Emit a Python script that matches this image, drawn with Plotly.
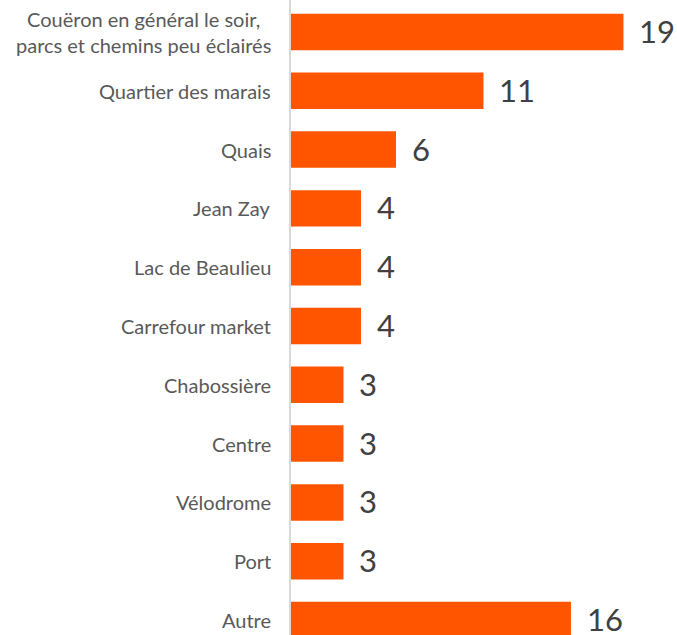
import plotly.graph_objects as go

categories = [
    "Couëron en général le soir,<br>parcs et chemins peu éclairés",
    "Quartier des marais",
    "Quais",
    "Jean Zay",
    "Lac de Beaulieu",
    "Carrefour market",
    "Chabossière",
    "Centre",
    "Vélodrome",
    "Port",
    "Autre",
]
values = [19, 11, 6, 4, 4, 4, 3, 3, 3, 3, 16]

fig = go.Figure(go.Bar(
    x=values, y=categories, orientation="h",
    marker=dict(color="#FF5500", line=dict(width=0)),
    width=0.62,
    hoverinfo="skip",
))

annotations = []
for c, v in zip(categories, values):
    annotations.append(dict(
        x=v, y=c, xref="x", yref="y", text=str(v), showarrow=False,
        xanchor="left", yanchor="middle", xshift=14, yshift=1,
        font=dict(family="Lato", size=31, color="#404040"),
    ))
    annotations.append(dict(
        x=0, y=c, xref="x", yref="y", text=c, showarrow=False,
        xanchor="right", yanchor="middle", xshift=-18, align="center",
        font=dict(family="Lato", size=20, color="#595959"),
    ))

fig.update_layout(
    width=677, height=635,
    margin=dict(l=291, r=0, t=0, b=0, autoexpand=False),
    paper_bgcolor="white", plot_bgcolor="white",
    showlegend=False,
    annotations=annotations,
    xaxis=dict(range=[0, 22.06], showgrid=False, zeroline=False,
               showticklabels=False, showline=False, fixedrange=True),
    yaxis=dict(type="category", range=[10.255, -0.544], showgrid=False,
               zeroline=False, showticklabels=False, showline=True,
               linecolor="#D9D9D9", linewidth=1.5, fixedrange=True),
)

fig.write_html("out.html", config={"displayModeBar": False},
               post_script="document.body.style.margin='0';")
